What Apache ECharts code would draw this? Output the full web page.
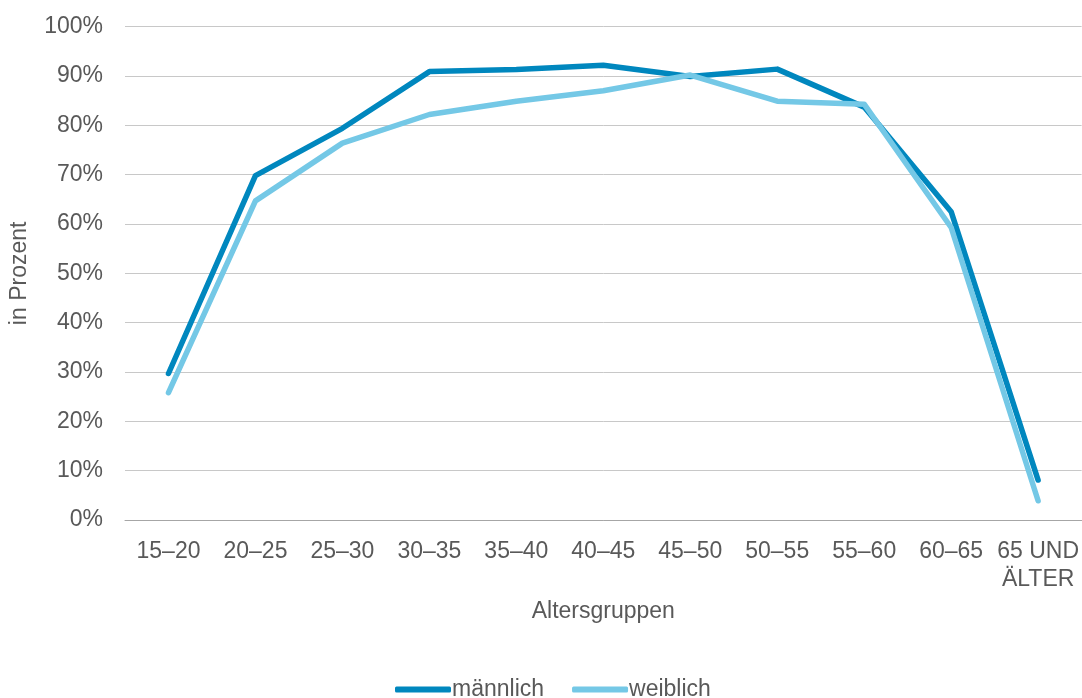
<!DOCTYPE html>
<html>
<head>
<meta charset="utf-8">
<script src="https://cdn.jsdelivr.net/npm/echarts@6/dist/echarts.min.js"></script>
<style>
  html, body { margin: 0; padding: 0; background: #ffffff; }
  #chart { width: 1082px; height: 698px; }
</style>
</head>
<body>
<div id="chart"></div>
<script>
// Age groups on the x axis
const categories = ['15–20', '20–25', '25–30', '30–35', '35–40', '40–45', '45–50', '50–55', '55–60', '60–65', '65 UND\nÄLTER'];

// Share in percent per age group
const maennlich = [29.7, 69.8, 79.4, 90.9, 91.3, 92.2, 89.9, 91.4, 83.7, 62.5, 8.1];
const weiblich  = [25.8, 64.7, 76.4, 82.2, 84.9, 87.0, 90.2, 84.9, 84.3, 59.3, 3.9];

const seriesNames = ['männlich', 'weiblich'];

const fontFamily = '"Liberation Sans", Arial, sans-serif';
const textColor = '#595959';
const fontSize = 23;

const chart = echarts.init(document.getElementById('chart'), null, { renderer: 'canvas' });

chart.setOption({
  animation: false,
  textStyle: { fontFamily: fontFamily, color: textColor },
  grid: { left: 125, right: 0, top: 26.7, bottom: 178, containLabel: false },
  legend: {
    top: 678,
    left: 395,
    padding: 0,
    itemWidth: 56,
    itemHeight: 6,
    itemGap: 28,
    icon: 'roundRect',
    textStyle: { fontSize: fontSize, color: textColor, fontFamily: fontFamily, padding: [0, 0, 0, -4] },
    data: seriesNames
  },
  xAxis: {
    type: 'category',
    data: categories,
    boundaryGap: true,
    name: 'Altersgruppen',
    nameLocation: 'middle',
    nameGap: 80,
    nameTextStyle: { fontSize: fontSize, color: textColor, fontFamily: fontFamily },
    axisLine: { show: true, lineStyle: { color: '#a6a6a6', width: 1 } },
    axisTick: { show: false },
    axisLabel: { fontSize: fontSize, color: textColor, fontFamily: fontFamily, margin: 18, lineHeight: 28, interval: 0 }
  },
  yAxis: {
    type: 'value',
    min: 0,
    max: 100,
    interval: 10,
    name: 'in Prozent',
    nameLocation: 'middle',
    nameGap: 94,
    nameRotate: 90,
    nameTextStyle: { fontSize: fontSize, color: textColor, fontFamily: fontFamily },
    axisLine: { show: false },
    axisTick: { show: false },
    axisLabel: { fontSize: fontSize, color: textColor, fontFamily: fontFamily, margin: 22, formatter: '{value}%' },
    splitLine: { show: true, lineStyle: { color: '#c8c8c8', width: 1 } }
  },
  series: [
    {
      name: seriesNames[0],
      type: 'line',
      data: maennlich,
      symbol: 'none',
      lineStyle: { color: '#0087BE', width: 5.5, cap: 'round', join: 'round' },
      itemStyle: { color: '#0087BE' },
      z: 2
    },
    {
      name: seriesNames[1],
      type: 'line',
      data: weiblich,
      symbol: 'none',
      lineStyle: { color: '#74C8E6', width: 5.5, cap: 'round', join: 'round' },
      itemStyle: { color: '#74C8E6' },
      z: 3
    }
  ]
});
</script>
</body>
</html>
